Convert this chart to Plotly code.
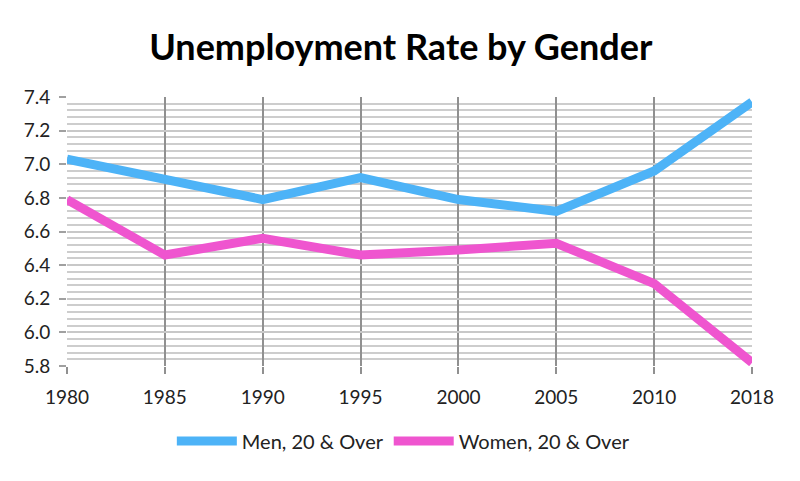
import plotly.graph_objects as go

years = ["1980", "1985", "1990", "1995", "2000", "2005", "2010", "2018"]
men = [7.03, 6.91, 6.79, 6.92, 6.79, 6.72, 6.96, 7.37]
women = [6.79, 6.46, 6.56, 6.46, 6.49, 6.53, 6.29, 5.82]

font_family = "Lato, 'Open Sans', sans-serif"

fig = go.Figure()

fig.add_trace(go.Scatter(
    x=years, y=men, mode="lines", name="Men, 20 & Over",
    line=dict(color="#4db3f7", width=9)
))
fig.add_trace(go.Scatter(
    x=years, y=women, mode="lines", name="Women, 20 & Over",
    line=dict(color="#ef55cf", width=9)
))

# page body has an 8px margin, so the margins are offset to match
fig.update_layout(
    width=800, height=481,
    paper_bgcolor="white", plot_bgcolor="white",
    margin=dict(l=59, r=56, t=89, b=123),
    title=dict(text="<b>Unemployment Rate by Gender</b>", x=0.491, xanchor="center",
               y=1 - 39 / 481, yanchor="middle",
               font=dict(family=font_family, size=36, color="black")),
    font=dict(family=font_family, size=19, color="#222222"),
    legend=dict(orientation="h", x=0.491, xanchor="center", y=-0.279, yanchor="middle",
                font=dict(size=20), itemwidth=60),
    showlegend=True,
)

fig.update_xaxes(
    type="category", range=[0, 7],
    showgrid=True, gridcolor="#909090", gridwidth=1.5,
    ticks="outside", ticklen=7, tickcolor="#909090", tickwidth=1.5,
    ticklabelstandoff=7,
    showline=False, zeroline=False,
)

fig.update_yaxes(
    range=[5.8, 7.4], tick0=5.8, dtick=0.2, tickformat=".1f",
    showgrid=True, gridcolor="#c8c8c8", gridwidth=2,
    ticks="outside", ticklen=7, tickcolor="#a0a0a0", tickwidth=1.5,
    ticklabelstandoff=5,
    minor=dict(dtick=0.04, tick0=5.8, showgrid=True, gridcolor="#cdcdcd", gridwidth=2),
    zeroline=False, showline=False,
)

fig.write_html("out.html")
